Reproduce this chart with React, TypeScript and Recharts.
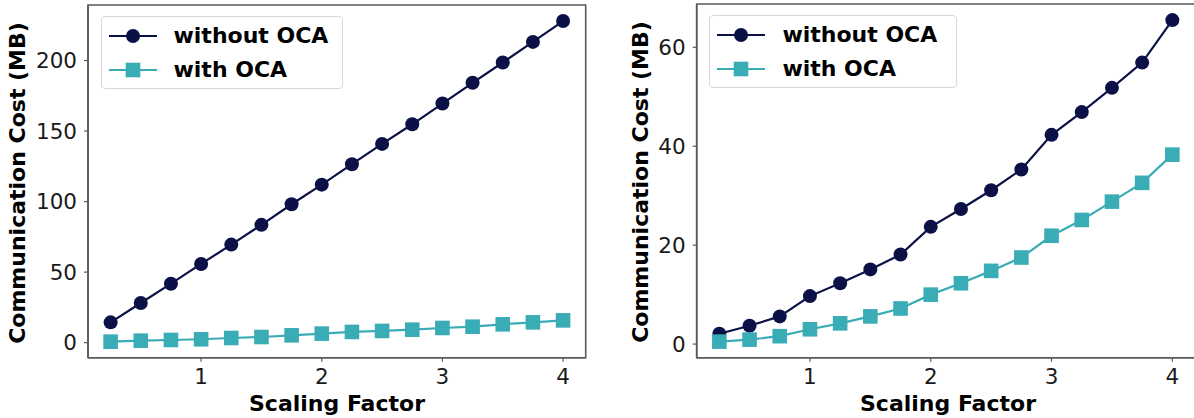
import React from 'react';
import { LineChart, Line, XAxis, YAxis, Legend, ReferenceArea } from 'recharts';

const scalingFactors = [0.25, 0.5, 0.75, 1, 1.25, 1.5, 1.75, 2, 2.25, 2.5, 2.75, 3, 3.25, 3.5, 3.75, 4];
const leftWithoutOCA = [14.4, 28.1, 41.8, 55.8, 69.5, 83.5, 98.1, 112, 126.5, 140.9, 154.8, 169.5, 184.2, 198.6, 213.2, 228];
const leftWithOCA = [0.7, 1.4, 1.9, 2.4, 3.3, 4.0, 5.2, 6.4, 7.6, 8.3, 9.2, 10.4, 11.3, 13, 14.4, 15.8];
const rightWithoutOCA = [2.1, 3.7, 5.6, 9.7, 12.3, 15.1, 18.1, 23.7, 27.3, 31.1, 35.3, 42.3, 46.9, 51.8, 56.9, 65.5];
const rightWithOCA = [0.5, 0.9, 1.6, 3.0, 4.2, 5.6, 7.2, 10.0, 12.3, 14.8, 17.5, 21.9, 25.1, 28.8, 32.6, 38.3];

const seriesNames = ['without OCA', 'with OCA'];
const seriesColors = ['#0b1147', '#3aacb6'];
const xTicks = [1, 2, 3, 4];
const leftYTicks = [0, 50, 100, 150, 200];
const rightYTicks = [0, 20, 40, 60];
const xLabel = 'Scaling Factor';
const yLabel = 'Communication Cost (MB)';

const FONT = 'DejaVu Sans';
const SPINE = '#5a5a5a';

function padDomain(lo: number, hi: number): [number, number] {
  const m = (hi - lo) * 0.05;
  return [lo - m, hi + m];
}

const xDomain = padDomain(Math.min(...scalingFactors), Math.max(...scalingFactors));

function buildRows(a: number[], b: number[]) {
  return scalingFactors.map((x, i) => ({ x, a: a[i], b: b[i] }));
}

const CircleDot = (props: any) => {
  const { cx, cy, index } = props;
  if (cx == null || cy == null) return <g key={`c-${index}`} />;
  return <circle key={`c-${index}`} cx={cx} cy={cy} r={7} fill={seriesColors[0]} />;
};

const SquareDot = (props: any) => {
  const { cx, cy, index } = props;
  if (cx == null || cy == null) return <g key={`s-${index}`} />;
  return <rect key={`s-${index}`} x={cx - 7.3} y={cy - 7.3} width={14.6} height={14.6} fill={seriesColors[1]} />;
};

function makeLegend(width: number) {
  return () => (
    <div
      style={{
        position: 'relative',
        width,
        height: 73,
        boxSizing: 'border-box',
        border: '1px solid #d8d8d8',
        borderRadius: 4,
        background: 'rgba(255,255,255,0.85)',
        fontFamily: FONT,
      }}
    >
      {seriesNames.map((name, i) => (
        <div key={name} style={{ position: 'absolute', left: 0, top: 2 + i * 34, height: 34, width: '100%' }}>
          <svg width={60} height={34} style={{ position: 'absolute', left: 6, top: 0 }}>
            <line x1={1} x2={49} y1={17} y2={17} stroke={seriesColors[i]} strokeWidth={2.2} />
            {i === 0 ? (
              <circle cx={25} cy={17} r={7} fill={seriesColors[0]} />
            ) : (
              <rect x={25 - 7.3} y={17 - 7.3} width={14.6} height={14.6} fill={seriesColors[1]} />
            )}
          </svg>
          <span
            style={{
              position: 'absolute',
              left: 72,
              top: 0,
              lineHeight: '34px',
              fontSize: 22,
              fontWeight: 'bold',
              color: '#000',
              whiteSpace: 'nowrap',
            }}
          >
            {name}
          </span>
        </div>
      ))}
    </div>
  );
}

function makeYLabel(cx: number, cy: number) {
  return () => (
    <text
      x={cx}
      y={cy}
      transform={`rotate(-90, ${cx}, ${cy})`}
      textAnchor="middle"
      dy="0.36em"
      fontFamily={FONT}
      fontSize={22}
      fontWeight="bold"
      fill="#000"
    >
      {yLabel}
    </text>
  );
}

function makeXLabel(cx: number, baseline: number) {
  return () => (
    <text x={cx} y={baseline} textAnchor="middle" fontFamily={FONT} fontSize={22} fontWeight="bold" fill="#000">
      {xLabel}
    </text>
  );
}

type PanelProps = {
  left: number;
  width: number;
  top: number;
  axisWidth: number;
  rightMargin: number;
  without: number[];
  withOCA: number[];
  yTicks: number[];
  legendLeft: number;
  legendTop: number;
  legendWidth: number;
  yLabelX: number;
  yLabelY: number;
  xLabelX: number;
};

function Panel(p: PanelProps) {
  const data = buildRows(p.without, p.withOCA);
  const all = [...p.without, ...p.withOCA];
  const yDomain = padDomain(Math.min(...all), Math.max(...all));
  const tickStyle = { fontSize: 21.5, fill: '#1a1a1a', fontFamily: FONT };
  return (
    <div style={{ position: 'absolute', left: p.left, top: 0 }}>
      <LineChart
        width={p.width}
        height={418}
        data={data}
        margin={{ top: p.top, right: p.rightMargin, bottom: 0, left: 0 }}
      >
        <XAxis
          dataKey="x"
          type="number"
          domain={xDomain}
          ticks={xTicks}
          allowDataOverflow
          height={60.3}
          tickSize={4}
          tickMargin={7}
          tick={tickStyle}
          axisLine={{ stroke: SPINE, strokeWidth: 1.6 }}
          tickLine={{ stroke: SPINE, strokeWidth: 1.2 }}
          label={makeXLabel(p.xLabelX, 411)}
        />
        <YAxis
          type="number"
          domain={yDomain}
          ticks={p.yTicks}
          allowDataOverflow
          width={p.axisWidth}
          tickSize={4}
          tickMargin={7}
          tick={tickStyle}
          axisLine={{ stroke: SPINE, strokeWidth: 1.6 }}
          tickLine={{ stroke: SPINE, strokeWidth: 1.2 }}
          label={makeYLabel(p.yLabelX, p.yLabelY)}
        />
        <ReferenceArea
          x1={xDomain[0]}
          x2={xDomain[1]}
          y1={yDomain[0]}
          y2={yDomain[1]}
          fill="none"
          fillOpacity={0}
          stroke={SPINE}
          strokeWidth={1.6}
          ifOverflow="visible"
        />
        <Line
          dataKey="a"
          name={seriesNames[0]}
          type="linear"
          stroke={seriesColors[0]}
          strokeWidth={2.2}
          dot={CircleDot}
          activeDot={false}
          isAnimationActive={false}
        />
        <Line
          dataKey="b"
          name={seriesNames[1]}
          type="linear"
          stroke={seriesColors[1]}
          strokeWidth={2.2}
          dot={SquareDot}
          activeDot={false}
          isAnimationActive={false}
        />
        <Legend
          layout="vertical"
          verticalAlign="middle"
          align="center"
          content={makeLegend(p.legendWidth)}
          wrapperStyle={{ top: p.legendTop, left: p.legendLeft, width: p.legendWidth, height: 73 }}
        />
      </LineChart>
    </div>
  );
}

export default function App() {
  return (
    <div
      style={{
        position: 'absolute',
        left: 0,
        top: 0,
        width: 1194,
        height: 418,
        overflow: 'hidden',
        background: '#fff',
        fontFamily: FONT,
      }}
    >
      <Panel
        left={0}
        width={600}
        top={5}
        axisWidth={88}
        rightMargin={14.3}
        without={leftWithoutOCA}
        withOCA={leftWithOCA}
        yTicks={leftYTicks}
        legendLeft={100.5}
        legendTop={16}
        legendWidth={242}
        yLabelX={17}
        yLabelY={183}
        xLabelX={337}
      />
      <Panel
        left={600}
        width={595}
        top={4}
        axisWidth={96.7}
        rightMargin={0}
        without={rightWithoutOCA}
        withOCA={rightWithOCA}
        yTicks={rightYTicks}
        legendLeft={109.4}
        legendTop={15}
        legendWidth={248}
        yLabelX={40}
        yLabelY={182}
        xLabelX={348}
      />
    </div>
  );
}
